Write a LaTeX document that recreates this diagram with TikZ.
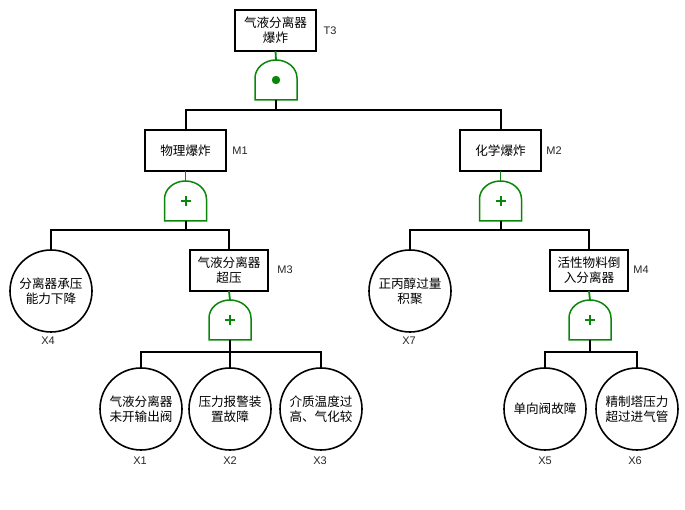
\documentclass[tikz,border=0pt]{standalone}
\usepackage{fontspec}
\setmainfont{Liberation Sans}
\newfontfamily\cjk{Noto Sans CJK SC}

\begin{document}
\begin{tikzpicture}[x=1pt,y=1pt,
    evbox/.style={draw,line width=1.6pt,fill=white,minimum width=81,minimum height=41,inner sep=0,outer sep=0,align=center,font=\cjk\fontsize{12.6}{15}\selectfont},
    basic/.style={draw,circle,line width=1.6pt,fill=white,minimum size=82,inner sep=0,outer sep=0,align=center,font=\cjk\fontsize{12.6}{15}\selectfont},
    lbl/.style={font=\fontsize{11}{13}\selectfont,text=black!85},
    wire/.style={line width=2pt},
    gwire/.style={line width=1.8pt,draw=gatecol},
    gate/.style={line width=1.5pt,draw=gatecol,fill=white}]
  \definecolor{gatecol}{RGB}{10,135,10}
  \useasboundingbox (0,0) rectangle (685,510);

  \node[evbox] (T3) at (275.5,479.5) {气液分离器\\爆炸};
  \node[evbox] (M1) at (185.5,359.5) {物理爆炸};
  \node[evbox] (M2) at (500.5,359.5) {化学爆炸};
  \node[evbox,minimum width=78] (M3) at (229,239.5) {气液分离器\\超压};
  \node[evbox,minimum width=78] (M4) at (589,239.5) {活性物料倒\\入分离器};

  \node[basic] (X4) at (51,219) {分离器承压\\能力下降};
  \node[basic] (X7) at (410,219) {正丙醇过量\\积聚};
  \node[basic] (X1) at (141,101) {气液分离器\\未开输出阀};
  \node[basic] (X2) at (230,101) {压力报警装\\置故障};
  \node[basic] (X3) at (321,101) {介质温度过\\高、气化较};
  \node[basic] (X5) at (545,101) {单向阀故障};
  \node[basic] (X6) at (637,101) {精制塔压力\\超过进气管};

  \node[lbl] (T3l) at (330,479) {T3};
  \node[lbl] (M1l) at (240,359) {M1};
  \node[lbl] (M2l) at (554,359) {M2};
  \node[lbl] (M3l) at (285,240) {M3};
  \node[lbl] (M4l) at (641,240) {M4};
  \node[lbl] (X4l) at (48,169) {X4};
  \node[lbl] (X7l) at (409,169) {X7};
  \node[lbl] (X1l) at (140,49) {X1};
  \node[lbl] (X2l) at (230,49) {X2};
  \node[lbl] (X3l) at (320,49) {X3};
  \node[lbl] (X5l) at (545,49) {X5};
  \node[lbl] (X6l) at (635,49) {X6};

  \coordinate (gT3) at (276,410);
  \coordinate (gM1) at (185.5,289);
  \coordinate (gM2) at (500.5,289);
  \coordinate (gM3) at (230,170);
  \coordinate (gM4) at (590,170);
  \coordinate (jT3) at (276,400);
  \coordinate (jM1) at (185.5,280);
  \coordinate (jM2) at (500.5,280);
  \coordinate (jM3) at (230,158);
  \coordinate (jM4) at (590,158);

  \draw[gwire] (T3.south) -- ([yshift=40]gT3);
  \draw[gwire] (M1.south) -- ([yshift=40]gM1);
  \draw[gwire] (M2.south) -- ([yshift=40]gM2);
  \draw[gwire] (M3.south) -- ([yshift=40]gM3);
  \draw[gwire] (M4.south) -- ([yshift=40]gM4);

  \draw[gate] (gT3) ++(-21,0) -- ++(0,22) arc[start angle=180,end angle=0,x radius=21,y radius=18] -- ++(0,-22) -- cycle;
  \fill[gatecol] ([yshift=20]gT3) circle (4.2);
  \foreach \g in {gM1,gM2,gM3,gM4} {
    \draw[gate] (\g) ++(-21,0) -- ++(0,22) arc[start angle=180,end angle=0,x radius=21,y radius=18] -- ++(0,-22) -- cycle;
    \draw[gwire,line width=2pt] ([shift={(-5,20)}]\g) -- ([shift={(5,20)}]\g);
    \draw[gwire,line width=2pt] ([shift={(0,15)}]\g) -- ([shift={(0,25)}]\g);
  }

  \draw[wire] (gT3) -- (jT3);
  \draw[wire] (M1.north) |- (jT3) -| (M2.north);
  \draw[wire] (gM1) -- (jM1);
  \draw[wire] (X4.north) |- (jM1) -| (M3.north);
  \draw[wire] (gM2) -- (jM2);
  \draw[wire] (X7.north) |- (jM2) -| (M4.north);
  \draw[wire] (gM3) -- (jM3);
  \draw[wire] (X1.north) |- (jM3) -| (X3.north);
  \draw[wire] (jM3) -- (X2.north);
  \draw[wire] (gM4) -- (jM4);
  \draw[wire] (X5.north) |- (jM4) -| (X6.north);
\end{tikzpicture}
\end{document}
